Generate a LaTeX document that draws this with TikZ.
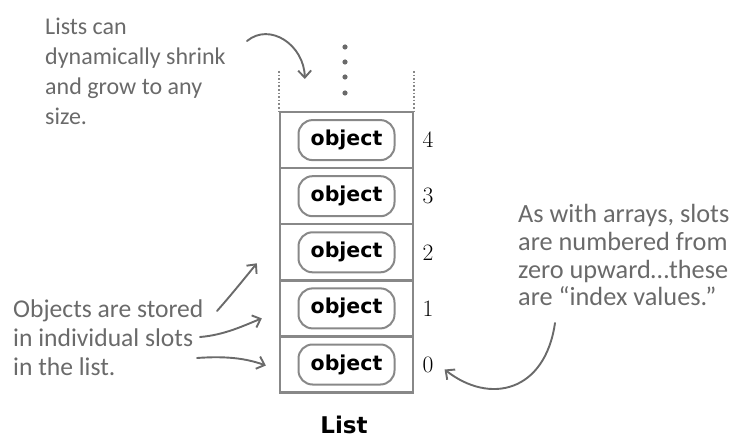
\documentclass[tikz,border=0pt]{standalone}
\usepackage{fontspec}
\usetikzlibrary{arrows.meta}
\newfontfamily\handfont{Carlito}
\newfontfamily\objfont{DejaVu Sans}
\definecolor{handgray}{HTML}{6A6A6A}
\definecolor{boxgray}{HTML}{888888}
\begin{document}
\begin{tikzpicture}[x=1pt,y=-1pt,
  slot/.style={draw=boxgray,line width=2.3pt,minimum width=133pt,minimum height=56pt,inner sep=0pt},
  pill/.style={draw=boxgray,line width=2pt,rounded corners=14pt,minimum width=96pt,minimum height=40pt,inner sep=0pt,font=\objfont\bfseries\fontsize{20.5}{24}\selectfont},
  idx/.style={font=\fontsize{23.5}{26}\selectfont,inner sep=0pt},
  hand/.style={text=handgray,align=left,inner sep=0pt,anchor=north west},
  harrow/.style={draw=handgray,line width=1.9pt,line cap=round,-{Straight Barb[length=7pt,width=13pt,line width=1.9pt]}},
  dotline/.style={draw=boxgray,line width=1.6pt,dotted},
]
\useasboundingbox (0,0) rectangle (736,438);

% list slots
\foreach \i in {0,...,4}{
  \node[slot] (r\i) at (346.5,{364.5-56.1*\i}) {};
  \node[pill] (p\i) at (r\i) {object};
  \node[idx] (n\i) at (428,{364.5-56.1*\i}) {\i};
}
\node[font=\objfont\bfseries\fontsize{23}{26}\selectfont,inner sep=0pt] (title) at (344,425) {List};

% open top: dotted sides and vertical ellipsis
\coordinate (dl) at ([shift={(0,-40)}]r4.north west);
\coordinate (dr) at ([shift={(0,-40)}]r4.north east);
\draw[dotline] (dl) -- (r4.north west);
\draw[dotline] (dr) -- (r4.north east);
\foreach \y [count=\k] in {47,62,77,93}{
  \fill[handgray] (345,\y) circle (2.6) coordinate (dot\k);
}

% annotations
\node[hand,font=\handfont\fontsize{24}{30}\selectfont] (t1) at (45,17.5)
  {Lists can\\dynamically shrink\\and grow to any\\size.};
\node[hand,font=\handfont\fontsize{25.6}{29}\selectfont] (t2) at (13,300)
  {Objects are stored\\in individual slots\\in the list.};
\node[hand,font=\handfont\fontsize{26.3}{27.8}\selectfont] (t3) at (518,204)
  {As with arrays, slots\\are numbered from\\zero upward\ldots these\\are “index values.”};

% arrows
\coordinate (a1s) at (247,41);
\coordinate (a1e) at ([shift={(26,-32)}]r4.north west);
\draw[harrow] (a1s) .. controls (270,22) and (304,45) .. (a1e);

\coordinate (a2s) at (555,323);
\coordinate (a2e) at ([shift={(11,5)}]n0.east);
\draw[harrow] (a2s) .. controls (545,392) and (490,405) .. (a2e);

\coordinate (b1s) at (217,311);
\coordinate (b1e) at ([shift={(-22,11)}]r2.west);
\draw[harrow] (b1s) .. controls (232,294) and (244,279) .. (b1e);

\coordinate (b2s) at (200,337);
\coordinate (b2e) at ([shift={(-17,10)}]r1.west);
\draw[harrow] (b2s) .. controls (225,335) and (245,325) .. (b2e);

\coordinate (b3s) at (197,358);
\coordinate (b3e) at ([shift={(-13,1)}]r0.west);
\draw[harrow] (b3s) .. controls (225,356) and (245,358) .. (b3e);
\end{tikzpicture}
\end{document}
